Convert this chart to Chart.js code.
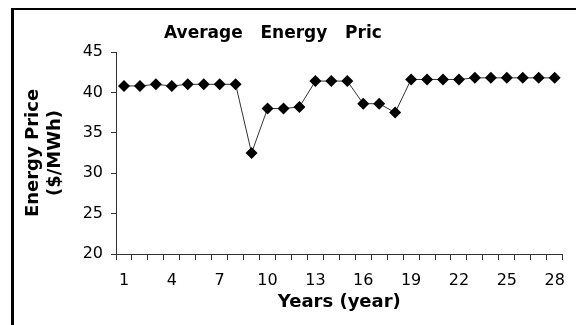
<!DOCTYPE html>
<html>
<head>
<meta charset="utf-8">
<script src="https://cdn.jsdelivr.net/npm/chart.js@4/dist/chart.umd.min.js"></script>
<style>
  html, body { margin: 0; padding: 0; background: #fff; }
  #wrap { position: relative; width: 576px; height: 325px; overflow: hidden; }
  #frame {
    position: absolute; left: 11px; top: 8px; right: -10px; bottom: -10px;
    border-left: 3px solid #000; border-top: 2px solid #000;
    pointer-events: none;
  }
  canvas { display: block; }
</style>
</head>
<body>
<div id="wrap">
  <canvas id="chart" width="576" height="325"></canvas>
  <div id="frame"></div>
</div>
<script>
// Years 1..28
const years = [1, 2, 3, 4, 5, 6, 7, 8, 9, 10, 11, 12, 13, 14, 15, 16, 17, 18, 19, 20, 21, 22, 23, 24, 25, 26, 27, 28];
// Average energy price per year, $/MWh
const energyPrice = [40.8, 40.8, 41.0, 40.8, 41.0, 41.0, 41.0, 41.0, 32.5, 38.0, 38.0, 38.2, 41.4, 41.4, 41.4,
                     38.6, 38.6, 37.5, 41.6, 41.6, 41.6, 41.6, 41.8, 41.8, 41.8, 41.8, 41.8, 41.8];
const yTicks = [20, 25, 30, 35, 40, 45];
const chartTitle = 'Average   Energy   Pric';
const xTitle = 'Years (year)';
const yTitle = ['Energy Price', '($/MWh)'];

// Title drawn left-anchored above the plot
const titlePlugin = {
  id: 'leftTitle',
  afterDraw(chart) {
    const ctx = chart.ctx;
    ctx.save();
    ctx.font = 'bold 17px "DejaVu Sans"';
    ctx.fillStyle = '#000';
    ctx.textAlign = 'left';
    ctx.textBaseline = 'alphabetic';
    ctx.fillText(chartTitle, 164, 37.5);
    ctx.restore();
  }
};

new Chart(document.getElementById('chart'), {
  type: 'line',
  data: {
    labels: years,
    datasets: [{
      data: energyPrice,
      borderColor: '#333',
      borderWidth: 1,
      pointStyle: 'rectRot',
      pointRadius: 6,
      pointBackgroundColor: '#000',
      pointBorderColor: '#000',
      pointBorderWidth: 0,
      tension: 0
    }]
  },
  options: {
    responsive: false,
    animation: false,
    devicePixelRatio: 1,
    layout: { padding: { top: 52, right: 9, bottom: 0, left: 0 } },
    plugins: {
      legend: { display: false },
      title: { display: false },
      tooltip: { enabled: false }
    },
    scales: {
      x: {
        type: 'category',
        offset: true,
        grid: {
          offset: true,
          drawOnChartArea: false,
          tickLength: 6,
          color: '#333',
          lineWidth: 1
        },
        border: { color: '#333', width: 1 },
        ticks: {
          autoSkip: false,
          maxRotation: 0,
          padding: 11,
          color: '#000',
          font: { family: 'DejaVu Sans', size: 16 },
          callback: function (val, i) { return i % 3 === 0 ? this.getLabelForValue(val) : ''; }
        },
        title: {
          display: true,
          text: xTitle,
          color: '#000',
          font: { family: 'DejaVu Sans', size: 18, weight: 'bold' },
          padding: { top: 0, bottom: 12 }
        },
        afterFit(scale) { scale.height = 71; }
      },
      y: {
        min: 20,
        max: 45,
        afterBuildTicks(scale) { scale.ticks = yTicks.map(v => ({ value: v })); },
        grid: {
          drawOnChartArea: false,
          tickLength: 5,
          color: '#333',
          lineWidth: 1
        },
        border: { color: '#333', width: 1 },
        ticks: {
          padding: 8,
          color: '#000',
          font: { family: 'DejaVu Sans', size: 16 }
        },
        title: {
          display: true,
          text: yTitle,
          color: '#000',
          font: { family: 'DejaVu Sans', size: 18, weight: 'bold' },
          padding: { top: 23, bottom: 0 }
        },
        afterFit(scale) { scale.width = 116; }
      }
    }
  },
  plugins: [titlePlugin]
});
</script>
</body>
</html>
